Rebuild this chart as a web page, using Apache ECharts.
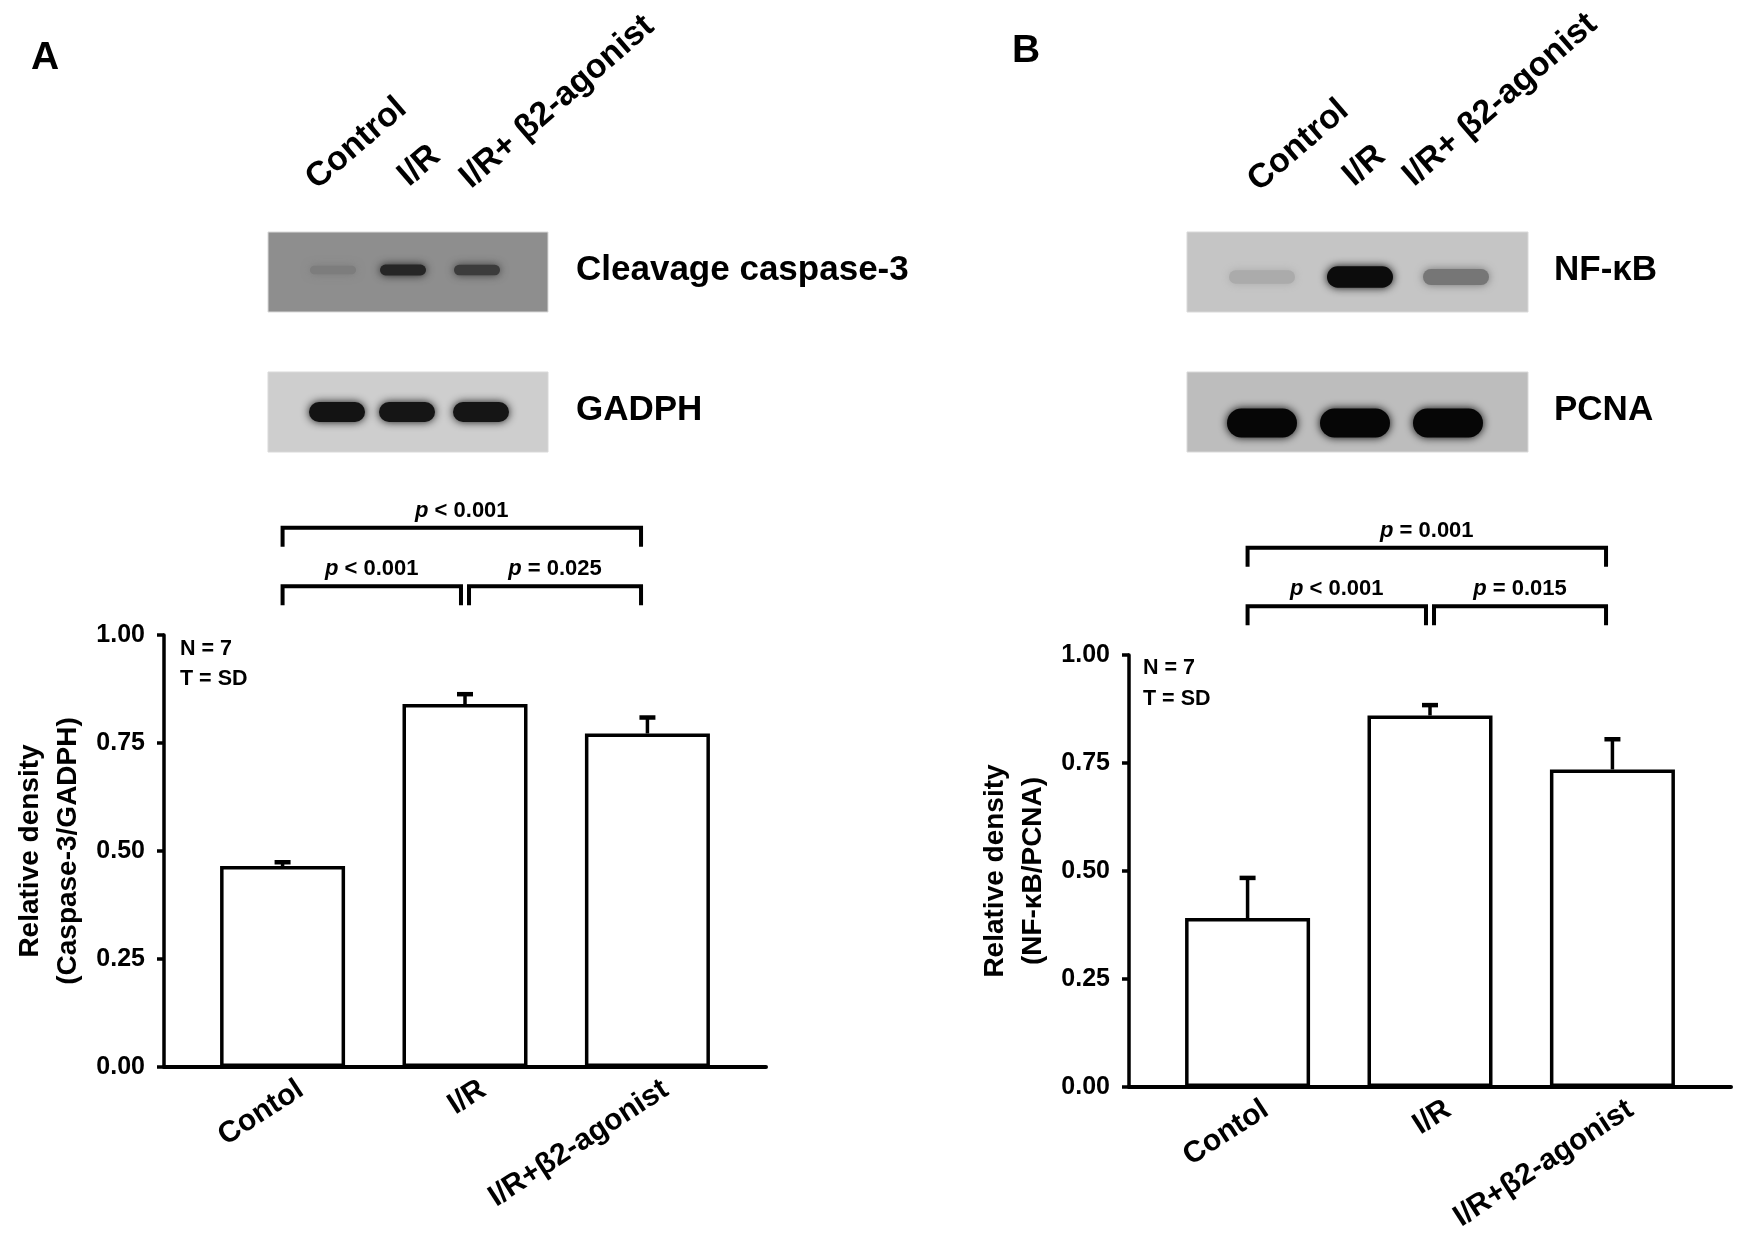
<!DOCTYPE html>
<html>
<head>
<meta charset="utf-8">
<script src="https://cdn.jsdelivr.net/npm/echarts@6/dist/echarts.min.js"></script>
<style>
  html, body { margin: 0; background: #fff; }
  #main { width: 1743px; height: 1243px; }
</style>
</head>
<body>
<div id="main"></div>
<script>
// groups on the bar charts and on the blots
const categories = ['Contol', 'I/R', 'I/R+β2-agonist'];
const laneLabels = ['Control', 'I/R', 'I/R+ β2-agonist'];
const yTicks = [0, 0.25, 0.5, 0.75, 1];

// relative density, mean and SD (N = 7)
const caspaseMean = [0.465, 0.840, 0.772];
const caspaseSD = [0.009, 0.023, 0.037];
const nfkbMean = [0.391, 0.860, 0.735];
const nfkbSD = [0.093, 0.024, 0.070];

// band darkness per lane (0 = background, 1 = black)
const caspaseBands = [0.12, 0.73, 0.58];
const gadphBands = [0.91, 0.90, 0.90];
const nfkbBands = [0.13, 0.94, 0.40];
const pcnaBands = [0.97, 0.97, 0.97];

// comparisons and p values
const pairs = [[0, 1], [1, 2], [0, 2]];
const pTextA = ['< 0.001', '= 0.025', '< 0.001'];
const pTextB = ['< 0.001', '= 0.015', '= 0.001'];

const FONT = "'Liberation Sans', Arial, Helvetica, sans-serif";
const FIRST = 0.65;      // first bar centre, in bar spacings from the y axis
const LABEL_SHIFT = 0.1;
const pos = i => i + FIRST;

const chart = echarts.init(document.getElementById('main'));

function mix(bg, k) {
    const v = Math.round(bg * (1 - k));
    return 'rgb(' + v + ',' + v + ',' + v + ')';
}

const graphics = [];

function text(x, y, s, size, extra) {
    graphics.push({
        type: 'text', x: x, y: y, silent: true,
        style: Object.assign({
            text: s, fontFamily: FONT, fontSize: size, fontWeight: 'bold', fill: '#000',
            align: 'left', verticalAlign: 'middle'
        }, extra || {})
    });
}

function blot(x, y, w, bg, lanes, bands, cy, bw, bh, growH) {
    graphics.push({
        type: 'rect', silent: true,
        shape: {x: x, y: y, width: w, height: 80},
        style: {fill: 'rgb(' + bg + ',' + bg + ',' + bg + ')', stroke: '#d9d9d9', lineWidth: 1}
    });
    bands.forEach((k, i) => {
        const c = mix(bg, k);
        const h = bh + growH * k;
        graphics.push({
            type: 'rect', silent: true,
            shape: {x: lanes[i] - bw / 2, y: cy - h / 2, width: bw, height: h, r: h / 2},
            style: {fill: c, shadowBlur: 9, shadowColor: c}
        });
    });
}

function laneText(pts) {
    laneLabels.forEach((s, i) => {
        graphics.push({
            type: 'text', x: pts[i][0], y: pts[i][1], rotation: 41 * Math.PI / 180, silent: true,
            style: {text: s, fontFamily: FONT, fontSize: 34, fontWeight: 'bold', fill: '#000',
                align: 'left', verticalAlign: 'bottom'}
        });
    });
}

// panel A
text(31, 58, 'A', 39);
laneText([[322, 196], [414, 193], [476, 195]]);
blot(268, 232, 280, 142, [333, 403, 477], caspaseBands, 270, 46, 8, 4);
blot(268, 372, 280, 206, [337, 407, 481], gadphBands, 412, 56, 20, 0);
text(576, 270, 'Cleavage caspase-3', 35);
text(576, 410, 'GADPH', 35);
text(180, 649, 'N = 7', 21.5);
text(180, 679, 'T = SD', 21.5);

// panel B
text(1012, 51, 'B', 39);
laneText([[1264, 198], [1359, 193], [1419, 193]]);
blot(1187, 232, 341, 197, [1262, 1360, 1456], nfkbBands, 277, 66, 12, 10);
blot(1187, 372, 341, 189, [1262, 1355, 1448], pcnaBands, 423, 70, 29, 0);
text(1554, 270, 'NF-κB', 35);
text(1554, 410, 'PCNA', 35);
text(1143, 668, 'N = 7', 21.5);
text(1143, 699, 'T = SD', 21.5);

function grid(left, top) {
    return {left: left, top: top, width: 602, height: 432, containLabel: false};
}

function xAxis(idx) {
    return {
        type: 'value', gridIndex: idx, min: 0, max: 3.3,
        axisLine: {show: true, onZero: false, lineStyle: {color: '#000', width: 4}},
        axisTick: {show: false},
        splitLine: {show: false},
        axisLabel: {
            customValues: categories.map((c, i) => pos(i) + LABEL_SHIFT),
            formatter: v => categories[Math.round(v - FIRST - LABEL_SHIFT)],
            rotate: 33, margin: 20, color: '#000',
            fontFamily: FONT, fontSize: 30, fontWeight: 'bold'
        }
    };
}

function yAxis(idx, name) {
    return {
        type: 'value', gridIndex: idx, min: 0, max: 1, interval: 0.25,
        name: name, nameLocation: 'middle', nameRotate: 90, nameGap: 77,
        nameTextStyle: {fontFamily: FONT, fontSize: 28, lineHeight: 38, color: '#000', fontWeight: 'bold'},
        axisLine: {show: true, lineStyle: {color: '#000', width: 3.5}},
        axisTick: {show: true, length: 7, lineStyle: {color: '#000', width: 3.5}},
        splitLine: {show: false},
        axisLabel: {
            margin: 19, color: '#000', fontFamily: FONT, fontSize: 25, fontWeight: 'bold',
            formatter: v => yTicks.indexOf(v) >= 0 ? v.toFixed(2) : ''
        }
    };
}

function barSeries(idx, means) {
    return {
        type: 'bar', xAxisIndex: idx, yAxisIndex: idx,
        barWidth: 125, z: 2,
        itemStyle: {color: '#fff', borderColor: '#000', borderWidth: 3.5},
        data: means.map((m, i) => [pos(i), m])
    };
}

function errorSeries(idx, means, sds) {
    return {
        type: 'custom', xAxisIndex: idx, yAxisIndex: idx, z: 1, silent: true,
        data: means.map((m, i) => [pos(i), m, sds[i]]),
        renderItem: (params, api) => {
            const x = api.value(0), m = api.value(1), sd = api.value(2);
            const base = api.coord([x, m]);
            const top = api.coord([x, m + sd]);
            return {
                type: 'group', children: [
                    {type: 'line', shape: {x1: base[0], y1: base[1], x2: top[0], y2: top[1]},
                        style: {stroke: '#000', lineWidth: 3.5}},
                    {type: 'line', shape: {x1: top[0] - 8, y1: top[1], x2: top[0] + 8, y2: top[1]},
                        style: {stroke: '#000', lineWidth: 4.5}}
                ]
            };
        }
    };
}

function bracketSeries(idx, texts) {
    const gap = 0.022, drop = 0.044;
    return {
        type: 'custom', xAxisIndex: idx, yAxisIndex: idx, clip: false, silent: true,
        data: pairs.map((p, k) => [p[0], p[1], k]),
        renderItem: (params, api) => {
            const a = api.value(0), b = api.value(1), k = api.value(2);
            const lvl = b - a > 1 ? 1.248 : 1.113;
            const x1 = pos(a) + (a > 0 ? gap : 0);
            const x2 = pos(b) - (b < 2 ? gap : 0.035);
            const pts = [[x1, lvl - drop], [x1, lvl], [x2, lvl], [x2, lvl - drop]].map(p => api.coord(p));
            const mid = api.coord([(x1 + x2) / 2, lvl + 0.04]);
            return {
                type: 'group', children: [
                    {type: 'polyline', shape: {points: pts},
                        style: {stroke: '#000', lineWidth: 4, fill: null, lineJoin: 'miter'}},
                    {type: 'text', x: mid[0], y: mid[1],
                        style: {
                            text: '{i|p} ' + texts[k], fontFamily: FONT, fontSize: 22, fontWeight: 'bold',
                            fill: '#000', align: 'center', verticalAlign: 'middle',
                            rich: {i: {fontFamily: FONT, fontSize: 22, fontWeight: 'bold', fontStyle: 'italic'}}
                        }}
                ]
            };
        }
    };
}

chart.setOption({
    backgroundColor: '#fff',
    animation: false,
    textStyle: {fontFamily: FONT},
    grid: [grid(164, 635), grid(1129, 655)],
    xAxis: [xAxis(0), xAxis(1)],
    yAxis: [yAxis(0, 'Relative density\n(Caspase-3/GADPH)'), yAxis(1, 'Relative density\n(NF-κB/PCNA)')],
    series: [
        barSeries(0, caspaseMean),
        errorSeries(0, caspaseMean, caspaseSD),
        bracketSeries(0, pTextA),
        barSeries(1, nfkbMean),
        errorSeries(1, nfkbMean, nfkbSD),
        bracketSeries(1, pTextB)
    ],
    graphic: graphics
});
</script>
</body>
</html>
